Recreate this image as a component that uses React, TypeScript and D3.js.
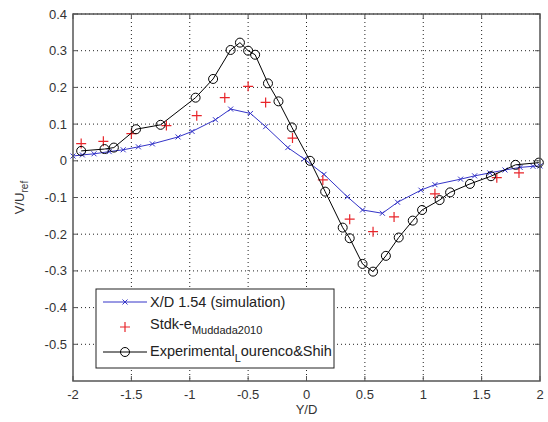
import React from "react";
import * as d3 from "d3";

const simX = [-2.0, -1.92, -1.82, -1.69, -1.57, -1.44, -1.32, -1.1, -0.98, -0.78, -0.65, -0.48, -0.35, -0.16, -0.02, 0.15, 0.35, 0.48, 0.65, 0.78, 0.98, 1.1, 1.32, 1.44, 1.57, 1.7, 1.83, 1.94, 2.0];
const simY = [0.013, 0.016, 0.019, 0.025, 0.03, 0.038, 0.046, 0.065, 0.08, 0.112, 0.141, 0.129, 0.093, 0.036, 0.005, -0.037, -0.098, -0.134, -0.143, -0.113, -0.08, -0.065, -0.05, -0.041, -0.033, -0.025, -0.018, -0.015, -0.014];

const redX = [-1.93, -1.74, -1.5, -1.2, -0.94, -0.7, -0.5, -0.35, -0.12, 0.14, 0.37, 0.57, 0.75, 1.1, 1.63, 1.82];
const redY = [0.047, 0.053, 0.074, 0.096, 0.123, 0.172, 0.203, 0.159, 0.062, -0.052, -0.159, -0.193, -0.153, -0.09, -0.046, -0.033];

const expX = [-1.93, -1.73, -1.65, -1.46, -1.25, -0.95, -0.8, -0.65, -0.57, -0.5, -0.44, -0.33, -0.24, -0.125, 0.03, 0.16, 0.31, 0.37, 0.48, 0.57, 0.68, 0.79, 0.91, 0.99, 1.14, 1.23, 1.4, 1.58, 1.79, 1.99];
const expY = [0.027, 0.032, 0.036, 0.086, 0.098, 0.172, 0.223, 0.302, 0.322, 0.3, 0.289, 0.211, 0.162, 0.091, 0.0, -0.084, -0.182, -0.211, -0.281, -0.302, -0.259, -0.209, -0.163, -0.134, -0.107, -0.086, -0.063, -0.042, -0.011, -0.005];

const xTicks = [-2, -1.5, -1, -0.5, 0, 0.5, 1, 1.5, 2];
const yTicks = [-0.5, -0.4, -0.3, -0.2, -0.1, 0, 0.1, 0.2, 0.3, 0.4];

const W = 548, H = 422;
const L = 73, R = 540, T = 14, B = 381;
const BLUE = "#3434c8";
const RED = "#e8252a";
const AX = "#555";
const FONT = "Arial, 'Liberation Sans', sans-serif";

export default function App() {
  const x = d3.scaleLinear().domain([-2, 2]).range([L, R]);
  const y = d3.scaleLinear().domain([-0.6, 0.4]).range([B, T]);
  const line = d3.line<[number, number]>().x(d => x(d[0])).y(d => y(d[1]));
  const sim = simX.map((v, i) => [v, simY[i]] as [number, number]);
  const red = redX.map((v, i) => [v, redY[i]] as [number, number]);
  const exp = expX.map((v, i) => [v, expY[i]] as [number, number]);
  const fmt = (v: number) => (Math.abs(v) < 1e-9 ? "0" : String(v));

  const xMark = (cx: number, cy: number, k: string) => (
    <path key={k} d={`M${cx - 2.5},${cy - 2.5}L${cx + 2.5},${cy + 2.5}M${cx - 2.5},${cy + 2.5}L${cx + 2.5},${cy - 2.5}`} stroke={BLUE} strokeWidth={1} fill="none" />
  );
  const plus = (cx: number, cy: number, k: string) => (
    <path key={k} d={`M${cx - 5},${cy}L${cx + 5},${cy}M${cx},${cy - 5}L${cx},${cy + 5}`} stroke={RED} strokeWidth={1.2} fill="none" />
  );
  const circ = (cx: number, cy: number, k: string) => (
    <circle key={k} cx={cx} cy={cy} r={4.5} fill="none" stroke="#000" strokeWidth={1} />
  );

  const legX = 96, legY = 289, legW = 238, legH = 79;
  const rows = [302, 327, 352];

  return (
    <div style={{ position: "absolute", left: 0, top: 0 }}>
      <svg width={W} height={H} style={{ display: "block", background: "#fff" }} fontFamily={FONT}>
        <rect x={0} y={0} width={W} height={H} fill="#fff" />
        {/* grid */}
        {xTicks.filter(t => t > -2 && t < 2).map(t => (
          <line key={"gx" + t} x1={x(t)} x2={x(t)} y1={T} y2={B} stroke="#222" strokeWidth={1} strokeDasharray="1,3" />
        ))}
        {yTicks.map(t => (
          <line key={"gy" + t} x1={L} x2={R} y1={y(t)} y2={y(t)} stroke="#222" strokeWidth={1} strokeDasharray="1,3" />
        ))}
        {/* ticks */}
        {xTicks.map(t => (
          <g key={"tx" + t}>
            <line x1={x(t)} x2={x(t)} y1={B} y2={B - 5} stroke={AX} />
            <line x1={x(t)} x2={x(t)} y1={T} y2={T + 5} stroke={AX} />
            <text x={x(t)} y={B + 18} textAnchor="middle" fontSize={13} fill="#333">{fmt(t)}</text>
          </g>
        ))}
        {yTicks.map(t => (
          <g key={"ty" + t}>
            <line x1={L} x2={L + 5} y1={y(t)} y2={y(t)} stroke={AX} />
            <line x1={R} x2={R - 5} y1={y(t)} y2={y(t)} stroke={AX} />
            <text x={L - 6} y={y(t) + 4.5} textAnchor="end" fontSize={13} fill="#333">{fmt(t)}</text>
          </g>
        ))}
        {/* series */}
        <path d={line(sim) || ""} fill="none" stroke={BLUE} strokeWidth={1} />
        {sim.map((d, i) => xMark(x(d[0]), y(d[1]), "s" + i))}
        {red.map((d, i) => plus(x(d[0]), y(d[1]), "r" + i))}
        <path d={line(exp) || ""} fill="none" stroke="#000" strokeWidth={1} />
        {exp.map((d, i) => circ(x(d[0]), y(d[1]), "e" + i))}
        {/* box */}
        <rect x={L} y={T} width={R - L} height={B - T} fill="none" stroke={AX} strokeWidth={1.5} />
        {/* axis labels */}
        <text x={(L + R) / 2} y={B + 33} textAnchor="middle" fontSize={13} fill="#333">Y/D</text>
        <text transform={`translate(24,${(T + B) / 2}) rotate(-90)`} textAnchor="middle" fontSize={13} fill="#333">
          V/U<tspan fontSize={10} dy={4}>ref</tspan>
        </text>
        {/* legend */}
        <rect x={legX} y={legY} width={legW} height={legH} fill="#fff" stroke="#222" strokeWidth={1} />
        <line x1={103} x2={147} y1={rows[0]} y2={rows[0]} stroke={BLUE} />
        {xMark(125, rows[0], "lx")}
        <text x={150} y={rows[0] + 5} fontSize={14.5} fill="#222">X/D 1.54 (simulation)</text>
        {plus(125, rows[1], "lp")}
        <text x={150} y={rows[1] + 2} fontSize={14.5} fill="#222">
          Stdk-e<tspan fontSize={11} dy={5}>Muddada2010</tspan>
        </text>
        <line x1={103} x2={147} y1={rows[2]} y2={rows[2]} stroke="#000" />
        {circ(125, rows[2], "lc")}
        <text x={150} y={rows[2] + 4} fontSize={14.5} fill="#222">
          Experimental<tspan fontSize={11} dy={6}>L</tspan><tspan fontSize={14.5} dy={-6}>ourenco&amp;Shih</tspan>
        </text>
      </svg>
    </div>
  );
}
